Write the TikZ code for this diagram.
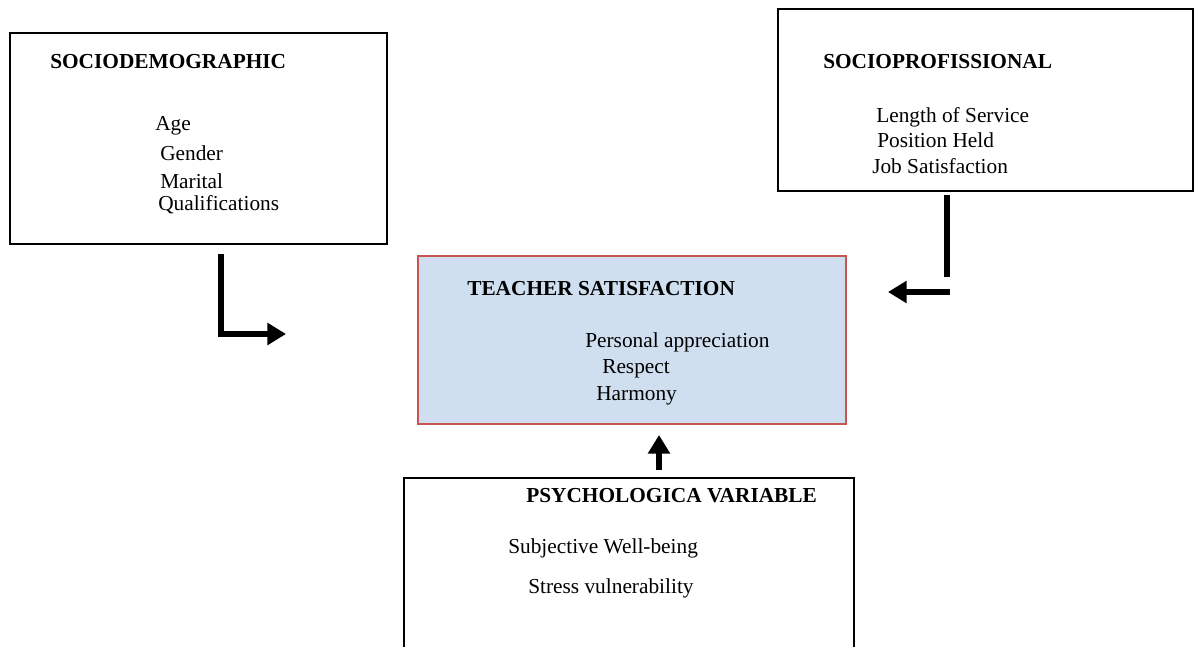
\documentclass[tikz,border=0pt]{standalone}
\usepackage{fontspec}
\setmainfont{Liberation Serif}
\usetikzlibrary{arrows.meta}
\definecolor{boxblue}{RGB}{207,223,240}
\definecolor{boxred}{RGB}{200,85,80}
\begin{document}
\begin{tikzpicture}[x=0.75pt,y=-0.75pt,
  txt/.style={anchor=base west,inner sep=0pt,font=\fontsize{16}{19}\selectfont},
  head/.style={txt,font=\fontsize{16}{19}\selectfont\bfseries},
  plainbox/.style={draw=black,line width=1.4pt,anchor=north west,inner sep=0pt},
  mainbox/.style={draw=boxred,fill=boxblue,line width=1.4pt,anchor=north west,inner sep=0pt},
  conn/.style={line width=3.8pt,line join=miter},
  tip/.style={-{Triangle[length=14pt,width=16pt]}}]
\clip (0,0) rectangle (1202,646);
\fill[white] (0,0) rectangle (1202,646);
% boxes
\node[plainbox,minimum width=282.75pt,minimum height=158.25pt] (demo) at (9,32) {};
\node[plainbox,minimum width=311.25pt,minimum height=136.5pt] (prof) at (777,8) {};
\node[mainbox,minimum width=321pt,minimum height=126pt] (sat) at (417,255) {};
\node[plainbox,minimum width=337.5pt,minimum height=140pt] (psy) at (403,477) {};
% texts
\node[head] (t1) at (50,68) {SOCIODEMOGRAPHIC};
\node[txt] (t1a) at (155,130) {Age};
\node[txt] (t1b) at (160,160) {Gender};
\node[txt] (t1c) at (160,188) {Marital};
\node[txt] (t1d) at (158,210) {Qualifications};
\node[head] (t2) at (823,68) {SOCIOPROFISSIONAL};
\node[txt] (t2a) at (876,122) {Length of Service};
\node[txt] (t2b) at (877,147) {Position Held};
\node[txt] (t2c) at (872,173) {Job Satisfaction};
\node[head] (t3) at (467,295) {TEACHER SATISFACTION};
\node[txt] (t3a) at (585,347) {Personal appreciation};
\node[txt] (t3b) at (602,373) {Respect};
\node[txt] (t3c) at (596,400) {Harmony};
\node[head] (t4) at (526,502) {PSYCHOLOGICA VARIABLE};
\node[txt] (t4a) at (508,553) {Subjective Well-being};
\node[txt] (t4b) at (528,593) {Stress vulnerability};
% connectors
\coordinate (l1) at (221,254);
\coordinate (l2) at (286,334);
\draw[conn,tip] (l1) |- (l2);
\coordinate (r1) at (947,195);
\coordinate (r2) at (947,277);
\draw[conn] (r1) -- (r2);
\coordinate (r3) at (950,292);
\coordinate (r4) at (888,292);
\draw[conn,tip] (r3) -- (r4);
\coordinate (u1) at (659,470);
\coordinate (u2) at (659,435);
\draw[conn,tip] (u1) -- (u2);
\end{tikzpicture}
\end{document}
